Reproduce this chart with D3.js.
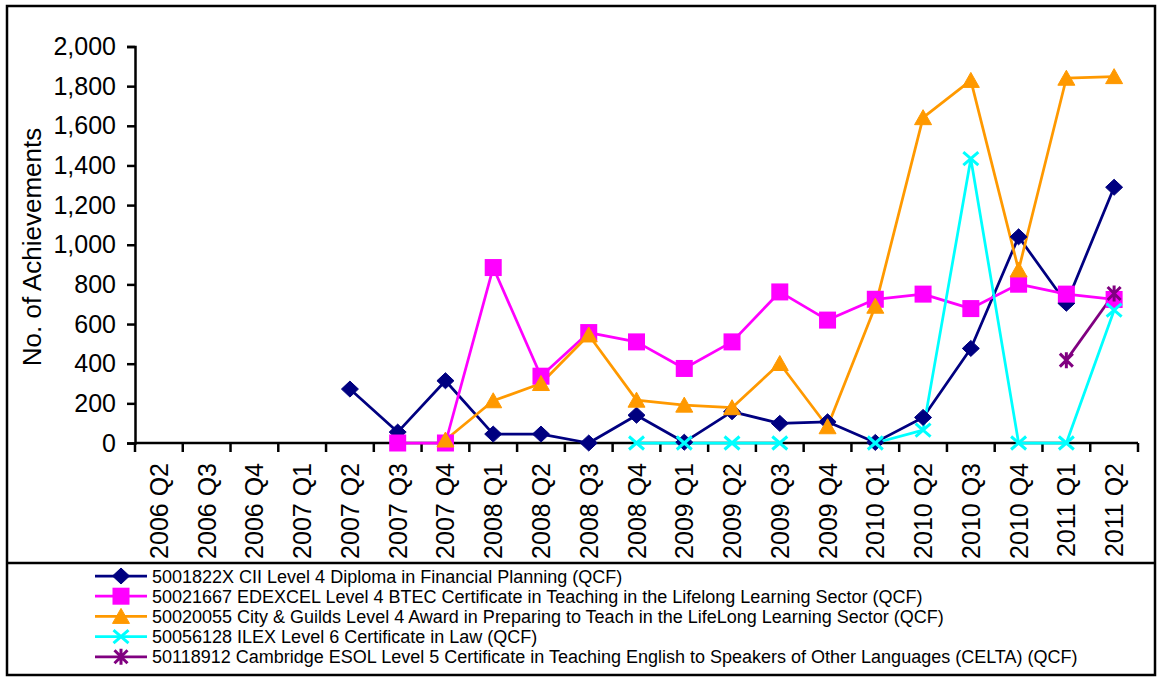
<!DOCTYPE html>
<html>
<head>
<meta charset="utf-8">
<script src="https://cdn.jsdelivr.net/npm/d3@7"></script>
<style>
  html, body { margin: 0; padding: 0; background: #fff; }
  svg { display: block; font-family: "Liberation Sans", Arial, sans-serif; }
</style>
</head>
<body>
<svg id="chart" width="1157" height="682"></svg>
<script>
const categories = ["2006 Q2","2006 Q3","2006 Q4","2007 Q1","2007 Q2","2007 Q3","2007 Q4",
  "2008 Q1","2008 Q2","2008 Q3","2008 Q4","2009 Q1","2009 Q2","2009 Q3","2009 Q4",
  "2010 Q1","2010 Q2","2010 Q3","2010 Q4","2011 Q1","2011 Q2"];

const yTicks = [0,200,400,600,800,1000,1200,1400,1600,1800,2000];

const ciiValues = [null,null,null,null,272,55,314,45,45,0,140,4,158,99,107,3,129,477,1040,705,1290];
const edexcelValues = [null,null,null,null,null,0,0,885,337,557,510,376,510,762,620,725,751,678,801,751,724];
const cityGuildsValues = [null,null,null,null,null,null,15,213,300,545,216,191,178,401,82,690,1641,1829,873,1840,1848];
const ilexValues = [null,null,null,null,null,null,null,null,null,null,0,0,0,0,null,0,65,1434,0,0,670];
const celtaValues = [null,null,null,null,null,null,null,null,null,null,null,null,null,null,null,null,null,null,null,418,754];

const seriesNames = [
  "5001822X CII Level 4 Diploma in Financial Planning (QCF)",
  "50021667 EDEXCEL Level 4 BTEC Certificate in Teaching in the Lifelong Learning Sector (QCF)",
  "50020055 City & Guilds Level 4 Award in Preparing to Teach in the LifeLong Learning Sector (QCF)",
  "50056128 ILEX Level 6 Certificate in Law (QCF)",
  "50118912 Cambridge ESOL Level 5 Certificate in Teaching English to Speakers of Other Languages (CELTA) (QCF)"
];
const seriesColors = ["#000080","#FF00FF","#FF9900","#00FFFF","#800080"];
const seriesMarkers = ["diamond","square","triangle","x","asterisk"];
const seriesValues = [ciiValues, edexcelValues, cityGuildsValues, ilexValues, celtaValues];

const series = seriesNames.map((name, i) => ({
  name, color: seriesColors[i], marker: seriesMarkers[i],
  values: seriesValues[i].map((v, j) => ({cat: categories[j], v}))
}));

const svg = d3.select("#chart");

// Outer frame
svg.append("rect").attr("x", 7).attr("y", 6).attr("width", 1148).attr("height", 669)
  .attr("fill", "#fff").attr("stroke", "#000").attr("stroke-width", 2.5);
svg.append("line").attr("x1", 7).attr("x2", 1155).attr("y1", 563).attr("y2", 563)
  .attr("stroke", "#000").attr("stroke-width", 2.5);

const plot = {left: 135, right: 1138, top: 46.5, bottom: 443};

const x = d3.scaleBand().domain(categories).range([plot.left, plot.right]);
const y = d3.scaleLinear().domain([0, 2000]).range([plot.bottom, plot.top]);

// Y axis
const yAxis = svg.append("g").attr("transform", `translate(${plot.left},0)`)
  .call(d3.axisLeft(y).tickValues(yTicks).tickSize(8).tickPadding(11)
    .tickFormat(d3.format(",")));
yAxis.select(".domain").attr("stroke", "#000").attr("stroke-width", 2.5);
yAxis.selectAll(".tick line").attr("stroke", "#000").attr("stroke-width", 2.5);
yAxis.selectAll(".tick text").attr("font-size", 25).attr("fill", "#000")
  .attr("font-family", "Liberation Sans, Arial, sans-serif");

// X axis: ticks at category boundaries
const xAxisG = svg.append("g").attr("transform", `translate(0,${plot.bottom})`);
xAxisG.append("line").attr("x1", plot.left).attr("x2", plot.right)
  .attr("y1", 0).attr("y2", 0).attr("stroke", "#000").attr("stroke-width", 2.5);
const boundaries = categories.map(c => x(c)).concat([x(categories[categories.length-1]) + x.bandwidth()]);
xAxisG.selectAll("line.tk").data(boundaries).join("line").attr("class", "tk")
  .attr("x1", d => d).attr("x2", d => d).attr("y1", 0).attr("y2", 9)
  .attr("stroke", "#000").attr("stroke-width", 2.5);
xAxisG.selectAll("text.lbl").data(categories).join("text").attr("class", "lbl")
  .attr("transform", d => `translate(${x(d) + x.bandwidth()/2 + 9},20) rotate(-90)`)
  .attr("text-anchor", "end").attr("font-size", 25).attr("fill", "#000")
  .text(d => d);

// Y axis title
svg.append("text").attr("transform", "translate(41,247) rotate(-90)")
  .attr("text-anchor", "middle").attr("font-size", 26).attr("fill", "#000")
  .text("No. of Achievements");

// Marker drawing
function drawMarker(g, type, color) {
  switch (type) {
    case "diamond":
      g.append("path").attr("d", "M0,-8L8.5,0L0,8L-8.5,0Z").attr("fill", color).attr("stroke", color).attr("stroke-width", 1);
      break;
    case "square":
      g.append("rect").attr("x", -8.5).attr("y", -8.5).attr("width", 17).attr("height", 17).attr("fill", color);
      break;
    case "triangle":
      g.append("path").attr("d", "M0,-8L8.5,7L-8.5,7Z").attr("fill", color).attr("stroke", color).attr("stroke-width", 1);
      break;
    case "x":
      g.append("path").attr("d", "M-7.5,-6.5L7.5,6.5M-7.5,6.5L7.5,-6.5").attr("stroke", color).attr("stroke-width", 3).attr("fill", "none");
      break;
    case "asterisk":
      g.append("path").attr("d", "M-6.5,-6.5L6.5,6.5M-6.5,6.5L6.5,-6.5M0,-8L0,8").attr("stroke", color).attr("stroke-width", 3).attr("fill", "none");
      break;
  }
}

const line = d3.line()
  .defined(d => d.v !== null)
  .x(d => x(d.cat) + x.bandwidth()/2)
  .y(d => y(d.v));

// Lines
series.forEach(s => {
  svg.append("path").datum(s.values).attr("d", line)
    .attr("fill", "none").attr("stroke", s.color).attr("stroke-width", 2.75)
    .attr("stroke-linejoin", "round");
});
// Markers
series.forEach(s => {
  s.values.filter(d => d.v !== null).forEach(d => {
    const g = svg.append("g").attr("transform", `translate(${x(d.cat) + x.bandwidth()/2},${y(d.v)})`);
    drawMarker(g, s.marker, s.color);
  });
});

// Legend
const legend = svg.append("g").attr("transform", "translate(0,576)");
series.forEach((s, i) => {
  const row = legend.append("g").attr("transform", `translate(0,${i * 20.2})`);
  row.append("line").attr("x1", 95).attr("x2", 147).attr("y1", 0).attr("y2", 0)
    .attr("stroke", s.color).attr("stroke-width", 2.75);
  const mg = row.append("g").attr("transform", "translate(121,0)");
  drawMarker(mg, s.marker, s.color);
  row.append("text").attr("x", 152).attr("y", 6.5).attr("font-size", 18).attr("fill", "#000")
    .text(s.name);
});
</script>
</body>
</html>
